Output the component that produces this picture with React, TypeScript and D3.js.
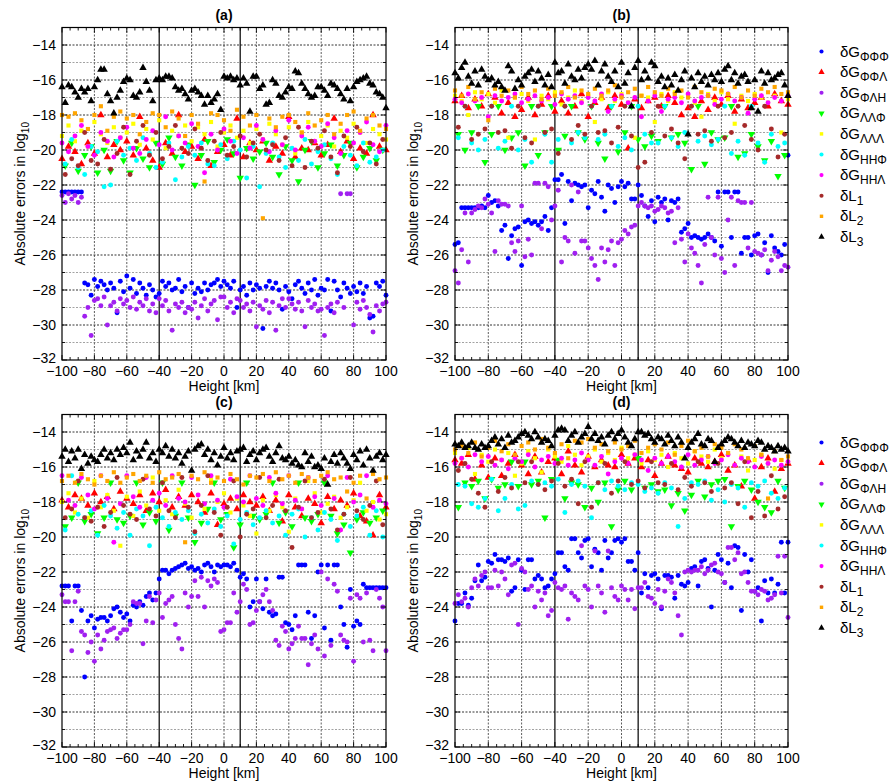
import React from 'react';
import * as d3 from 'd3';

// heights (km) at which the series were sampled
const fineH = d3.range(-100, 101, 2);
const coarseH = d3.range(-100, 101, 4);
const offsetH = d3.range(-98, 100, 4);

const yTicks = [-32, -30, -28, -26, -24, -22, -20, -18, -16, -14];
const xTicks = [-100, -80, -60, -40, -20, 0, 20, 40, 60, 80, 100];
const markLines = [-40, 10];

const seriesMain = ['δG', 'δG', 'δG', 'δG', 'δG', 'δG', 'δG', 'δL', 'δL', 'δL'];
const seriesSub = ['ΦΦΦ', 'ΦΦΛ', 'ΦΛH', 'ΛΛΦ', 'ΛΛΛ', 'HHΦ', 'HHΛ', '1', '2', '3'];

// ---------- panel (a) ----------
const aGppp = [
  -22.4, -22.4, -22.4, -22.4, -22.4, -22.4, -22.4, -27.6, -27.7, -28.3,
  -27.4, -27.8, -27.5, -27.7, -28.0, -27.6, -27.9, -29.3, -27.5, -28.1,
  -27.2, -27.9, -27.4, -28.2, -27.6, -27.9, -28.3, -27.7, -28.0, -28.4,
  -28.2, -27.5, -27.8, -27.6, -28.0, -27.9, -27.4, -28.1, -27.8, -29.0,
  -27.6, -28.2, -27.9, -28.1, -27.6, -28.0, -27.7, -27.6, -27.4, -27.8,
  -27.5, -27.7, -27.9, -27.5, -29.0, -28.0, -27.8, -28.3, -27.6, -28.0,
  -27.7, -27.9, -30.2, -27.8, -27.5, -27.9, -27.6, -28.0, -29.1, -27.8,
  -28.1, -28.5, -27.7, -27.5, -27.9, -28.2, -27.6, -28.0, -27.4, -28.3,
  -27.9, -28.0, -27.4, -29.2, -27.5, -28.0, -28.4, -27.6, -27.9, -28.2,
  -27.8, -28.1, -27.6, -28.2, -27.8, -29.6, -29.5, -27.6, -27.8, -27.5,
  -28.3,
];
const aGppl = [
  -20.5, -19.8, -20.1, -20.8, -19.6, -20.2, -18.0, -20.4, -19.7, -20.0,
  -19.5, -20.3, -18.1, -19.9, -20.6, -21.0, -19.6, -20.2, -18.0, -20.1,
  -19.8, -20.5, -19.4, -20.9, -20.1, -19.7, -20.3, -18.2, -20.4, -19.6,
  -20.0, -19.5, -20.6, -19.8, -20.2, -18.1, -20.4, -19.9, -20.0, -19.6,
  -20.3, -19.7, -18.2, -20.1, -19.5, -20.5, -19.9, -20.2, -18.0, -19.8,
  -20.0,
];
const aGplh = [
  -22.6, -23.0, -22.5, -22.8, -22.6, -23.0, -22.7, -29.5, -29.0, -30.6,
  -28.6, -28.5, -28.9, -28.4, -30.0, -28.9, -28.7, -29.2, -28.5, -28.8,
  -28.6, -29.0, -28.4, -29.1, -28.7, -28.9, -28.5, -29.2, -28.8, -29.3,
  -28.5, -28.9, -28.6, -29.2, -30.3, -28.8, -29.0, -28.7, -29.3, -29.0,
  -29.1, -28.7, -29.6, -28.9, -28.5, -29.2, -28.8, -28.6, -29.7, -28.4,
  -28.4, -29.0, -28.7, -29.3, -28.5, -28.6, -29.0, -28.8, -29.2, -28.7,
  -30.1, -28.9, -29.1, -28.6, -29.3, -28.7, -30.3, -28.9, -28.5, -29.0,
  -28.5, -28.8, -29.1, -28.7, -29.2, -30.1, -28.6, -29.0, -28.8, -29.2,
  -29.1, -30.6, -29.0, -28.8, -29.3, -28.7, -22.5, -29.0, -22.5, -22.5,
  -30.0, -28.7, -29.1, -28.6, -29.0, -29.4, -30.4, -28.9, -29.2, -28.8,
  -28.7,
];
const aGllp = [
  -20.9, -19.6, -21.2, -20.3, -19.8, -21.3, -20.0, -21.2, -19.5, -20.6,
  -21.3, -19.9, -20.5, -21.0, -19.6, -20.8, -19.3, -20.4, -20.9, -19.7,
  -22.0, -20.3, -19.5, -20.7, -20.0, -19.4, -20.2, -21.6, -19.9, -20.5,
  -20.1, -19.6, -20.4, -21.4, -19.8, -20.6, -21.8, -20.0, -19.5, -21.0,
  -20.2, -19.7, -20.9, -20.3, -19.6, -21.0, -20.4, -19.9, -20.6, -20.0,
];
const aGlll = [
  -19.2, -18.6, -19.5, -18.9, -19.8, -18.4, -19.1, -19.6, -18.7, -19.3,
  -19.0, -18.5, -19.7, -18.8, -19.4, -18.3, -19.9, -18.9, -19.2, -18.6,
  -19.5, -18.7, -19.1, -18.4, -19.8, -19.0, -18.6, -19.3, -18.9, -19.6,
  -18.8, -19.4, -18.5, -19.1, -19.7, -18.7, -20.2, -19.0, -18.4, -19.5,
  -19.2, -18.6, -19.8, -18.9, -19.3, -18.5, -19.0, -19.6, -18.8, -19.1,
  -19.4,
];
const aGhhp = [
  -20.8, -19.4, -21.0, -21.4, -19.8, -20.1, -22.1, -22.0, -19.5, -20.3,
  -19.9, -20.6, -19.3, -20.2, -21.0, -20.7, -19.6, -21.7, -20.4, -19.8,
  -20.3, -19.6, -20.8, -20.9, -19.7, -20.5, -19.5, -20.0, -21.6, -19.8,
  -22.1, -20.2, -19.6, -20.4, -21.0, -19.9, -20.6, -19.4, -20.8, -20.1,
  -19.7, -20.5, -21.4, -19.8, -20.3, -20.9, -19.6, -20.7, -20.4, -20.0,
];
const aGhhl = [
  -19.6, -20.1, -19.2, -18.6, -19.8, -20.3, -19.0, -19.5, -20.4, -19.3,
  -18.7, -19.9, -20.2, -19.4, -18.9, -19.7, -18.1, -20.0, -19.2, -19.6,
  -18.5, -19.8, -21.3, -19.1, -20.0, -18.8, -19.5, -20.2, -19.3, -19.9,
  -18.6, -19.4, -20.1, -18.9, -19.7, -18.3, -20.0, -19.2, -18.7, -19.5,
  -19.8, -18.5, -19.3, -20.2, -18.9, -19.6, -19.0, -18.4, -19.7, -20.1,
  -18.6,
];
const aL1 = [
  -21.4, -20.5, -20.9, -19.0, -20.6, -20.8, -19.4, -21.1, -20.2, -18.7,
  -21.4, -19.5, -18.6, -20.3, -19.0, -20.5, -19.8, -18.6, -19.9, -20.2,
  -18.8, -19.9, -20.6, -19.5, -19.0, -20.3, -19.8, -19.2, -20.4, -19.6,
  -19.1, -20.0, -19.7, -20.6, -19.3, -20.9, -18.7, -21.0, -19.5, -19.9,
  -18.9, -20.4, -21.3, -19.2, -19.8, -18.7, -20.1, -19.6, -20.8, -19.4,
];
const aL2 = [
  -18.0, -18.1, -17.9, -18.3, -18.8, -18.0, -17.5, -18.9, -18.1, -17.8,
  -18.2, -18.0, -19.1, -18.4, -17.9, -18.0, -18.7, -17.8, -18.2, -19.2,
  -18.0, -18.5, -21.8, -17.9, -18.0, -18.3, -18.9, -17.7, -18.1, -18.6,
  -18.0, -23.9, -18.2, -18.7, -18.1, -18.0, -18.4, -19.0, -17.9, -18.6,
  -18.3, -18.0, -19.1, -18.5, -18.0, -17.8, -18.9, -18.2, -18.0, -18.6,
  -18.8,
];
const aL3 = [
  -16.4, -17.3, -16.3, -16.4, -16.7, -17.0, -16.5, -16.7, -16.5, -17.2,
  -16.4, -16.0, -15.4, -15.4, -16.8, -17.2, -17.9, -17.0, -16.6, -16.1,
  -15.9, -16.0, -16.9, -17.0, -16.7, -15.3, -16.1, -16.6, -17.2, -16.0,
  -15.9, -16.0, -15.8, -15.8, -15.9, -16.4, -16.6, -16.5, -16.8, -17.1,
  -16.6, -16.5, -16.7, -16.9, -17.4, -16.9, -17.3, -17.1, -16.8, -17.7,
  -15.8, -15.9, -15.8, -16.0, -15.9, -16.3, -15.9, -16.2, -17.8, -15.8,
  -15.8, -16.5, -16.3, -17.4, -17.3, -16.0, -16.2, -16.9, -17.0, -16.7,
  -16.4, -16.5, -15.5, -15.6, -16.2, -16.5, -16.8, -17.0, -16.9, -16.4,
  -16.4, -16.6, -16.9, -16.2, -16.3, -16.5, -16.8, -17.1, -16.5, -17.2,
  -16.4, -16.1, -16.0, -15.9, -15.8, -16.2, -16.3, -16.7, -16.8, -17.0,
  -17.6,
];

// ---------- panel (b) ----------
const bGppp = [
  -25.4, -25.3, -23.3, -23.3, -23.3, -23.3, -23.3, -23.3, -23.2, -23.3,
  -22.6, -23.0, -22.9, -23.2, -24.6, -24.3, -26.2, -24.9, -24.5, -24.4,
  -26.6, -24.1, -24.0, -24.2, -24.1, -24.3, -24.1, -23.8, -24.6, -23.3,
  -21.7, -21.7, -21.4, -24.2, -21.8, -22.9, -21.9, -22.0, -22.1, -22.0,
  -23.3, -22.3, -22.5, -21.8, -22.7, -23.5, -22.0, -22.2, -23.0, -22.1,
  -21.8, -22.1, -21.9, -22.8, -22.8, -22.0, -22.6, -23.2, -23.8, -22.9,
  -24.1, -22.7, -23.0, -22.8, -24.0, -22.9, -23.0, -22.8, -24.7, -24.5,
  -24.2, -25.0, -24.9, -25.0, -25.1, -25.0, -24.8, -25.0, -25.2, -22.4,
  -25.5, -22.4, -22.4, -25.0, -22.4, -22.4, -25.9, -25.0, -25.0, -26.0,
  -24.9, -24.8, -26.0, -25.3, -27.0, -24.9, -25.6, -25.8, -26.0, -25.4,
  -20.3,
];
const bGppl = [
  -17.2, -16.9, -17.6, -17.1, -17.5, -16.8, -17.0, -17.9, -17.3, -18.1,
  -17.7, -17.0, -18.0, -17.4, -16.9, -17.8, -17.2, -17.9, -17.5, -16.8,
  -18.1, -17.3, -17.0, -17.6, -16.9, -17.4, -19.9, -17.1, -17.6, -17.2,
  -17.0, -17.5, -16.9, -17.3, -18.0, -17.6, -18.1, -17.2, -17.7, -17.0,
  -17.4, -16.9, -17.8, -17.1, -17.6, -17.3, -17.0, -17.5, -16.8, -17.2,
  -17.4,
];
const bGplh = [
  -26.9, -27.6, -25.7, -23.6, -26.4, -23.6, -23.4, -23.2, -23.3, -22.8,
  -23.1, -23.6, -25.8, -22.9, -23.1, -23.1, -23.2, -25.3, -25.8, -25.2,
  -23.2, -26.1, -25.1, -26.0, -21.9, -21.9, -24.5, -21.9, -22.1, -24.0,
  -23.2, -22.3, -26.4, -25.0, -25.2, -22.0, -25.9, -22.4, -25.2, -25.2,
  -25.6, -26.2, -26.6, -27.4, -25.6, -26.4, -25.7, -25.2, -26.6, -25.3,
  -25.1, -24.6, -24.8, -24.4, -24.3, -23.2, -23.0, -23.2, -23.3, -23.2,
  -23.5, -23.4, -23.2, -23.3, -23.6, -23.5, -25.3, -23.3, -25.1, -26.4,
  -24.8, -25.6, -25.9, -26.6, -27.6, -25.4, -22.7, -25.0, -26.0, -22.7,
  -26.2, -27.0, -24.0, -22.7, -26.6, -22.9, -23.0, -23.0, -25.6, -23.0,
  -25.8, -25.9, -26.0, -25.7, -26.9, -26.3, -25.8, -26.1, -26.9, -26.6,
  -26.7,
];
const bGllp = [
  -19.1, -20.0, -19.0, -17.5, -20.7, -19.1, -17.5, -20.0, -19.3, -19.0,
  -20.9, -17.5, -20.3, -19.0, -17.5, -20.0, -19.2, -17.5, -19.0, -19.4,
  -17.5, -19.6, -20.5, -17.5, -20.1, -19.0, -17.5, -19.4, -19.8, -19.2,
  -19.5, -17.5, -19.3, -19.1, -19.6, -21.1, -17.5, -20.8, -19.0, -19.4,
  -19.3, -17.5, -20.4, -20.2, -19.1, -19.8, -20.6, -19.5, -21.5, -20.3,
];
const bGlll = [
  -16.9, -17.2, -18.0, -16.7, -17.1, -16.8, -17.3, -16.6, -19.3, -17.0,
  -16.8, -17.2, -19.4, -16.9, -17.1, -16.7, -17.4, -17.0, -16.6, -17.2,
  -16.9, -18.4, -17.1, -16.7, -17.2, -16.8, -17.3, -19.3, -16.9, -17.0,
  -18.4, -16.8, -17.2, -16.7, -17.0, -16.9, -17.3, -18.1, -16.8, -17.2,
  -16.7, -17.1, -18.5, -16.9, -17.2, -16.8, -17.0, -17.3, -16.9, -19.0,
  -17.1,
];
const bGhhp = [
  -19.3, -17.5, -19.6, -20.0, -19.4, -17.5, -19.9, -19.5, -17.5, -20.0,
  -19.4, -20.7, -17.5, -19.1, -20.7, -19.4, -17.5, -19.6, -19.0, -19.3,
  -17.5, -19.4, -19.1, -17.5, -19.8, -19.3, -20.0, -17.5, -19.1, -19.6,
  -19.6, -17.5, -19.3, -19.8, -19.0, -17.5, -19.5, -19.2, -19.7, -19.4,
  -17.5, -20.2, -19.5, -20.3, -17.5, -19.6, -20.7, -19.1, -19.8, -19.6,
];
const bGhhl = [
  -17.1, -17.3, -16.8, -17.2, -17.0, -18.1, -16.9, -17.2, -17.0, -16.8,
  -17.3, -17.1, -16.9, -17.2, -17.0, -17.4, -16.8, -17.1, -16.9, -17.3,
  -17.0, -17.2, -16.8, -17.8, -17.1, -16.9, -17.3, -17.0, -18.1, -17.2,
  -16.9, -17.8, -17.1, -17.0, -17.3, -16.8, -17.2, -17.0, -16.9, -17.4,
  -17.1, -16.8, -17.2, -17.0, -17.9, -17.1, -16.9, -17.3, -17.0, -17.2,
  -16.9,
];
const bL1 = [
  -18.7, -17.5, -19.4, -19.1, -18.8, -17.5, -19.0, -18.9, -19.9, -17.5,
  -19.3, -19.6, -17.5, -19.0, -18.8, -20.2, -17.5, -19.4, -18.6, -19.1,
  -17.5, -19.0, -18.9, -19.6, -18.7, -17.5, -19.2, -21.0, -20.7, -19.0,
  -17.5, -19.2, -18.8, -19.6, -20.5, -17.5, -19.1, -18.9, -19.5, -17.5,
  -19.3, -19.0, -17.5, -18.6, -19.4, -20.0, -17.5, -18.8, -20.4, -19.1,
];
const bL2 = [
  -16.6, -16.9, -16.4, -17.1, -16.7, -18.3, -16.5, -16.9, -16.6, -17.0,
  -16.4, -16.8, -16.6, -17.1, -16.5, -16.9, -16.7, -16.4, -17.0, -16.6,
  -16.8, -16.5, -16.9, -16.6, -16.3, -17.0, -16.7, -16.5, -16.9, -16.4,
  -16.7, -16.9, -16.5, -16.8, -16.6, -17.0, -16.4, -16.7, -16.9, -16.5,
  -16.6, -16.8, -16.4, -17.0, -16.6, -16.9, -16.5, -16.7, -16.4, -16.8,
  -16.7,
];
const bL3 = [
  -15.6, -15.9, -15.3, -15.0, -15.8, -16.2, -15.5, -16.3, -15.4, -15.8,
  -16.0, -15.9, -16.3, -16.1, -16.4, -16.6, -15.2, -15.5, -16.5, -16.0,
  -16.3, -15.8, -15.6, -15.4, -16.1, -15.5, -15.9, -16.3, -15.7, -16.4,
  -15.0, -15.6, -15.5, -16.2, -15.1, -15.8, -16.0, -15.4, -15.9, -15.3,
  -15.1, -15.4, -14.9, -16.3, -15.5, -15.1, -15.8, -16.1, -15.5, -16.4,
  -15.0, -16.2, -15.6, -17.5, -15.3, -14.9, -16.0, -15.5, -15.9, -15.0,
  -15.2, -16.1, -15.8, -16.4, -15.9, -16.3, -15.7, -16.6, -16.0, -15.5,
  -19.1, -15.9, -16.4, -15.6, -16.1, -15.8, -16.3, -15.7, -16.0, -15.6,
  -16.1, -15.4, -15.2, -16.0, -15.6, -16.2, -15.8, -15.7, -16.1, -17.6,
  -16.0, -17.8, -15.5, -16.2, -15.6, -16.0, -15.9, -15.7, -15.6, -16.3,
  -16.9,
];

// ---------- panel (c) ----------
const cGppp = [
  -22.8, -22.8, -22.8, -24.8, -22.8, -22.8, -24.2, -28.0, -24.8, -24.5,
  -25.2, -24.7, -24.6, -24.6, -24.8, -24.5, -24.1, -24.0, -24.3, -24.6,
  -24.4, -24.8, -23.9, -24.0, -23.7, -23.9, -23.4, -23.2, -23.6, -23.2,
  -22.4, -21.9, -21.9, -22.1, -21.9, -21.8, -21.7, -21.6, -21.5, -21.8,
  -21.7, -21.9, -21.8, -22.0, -21.6, -21.5, -21.7, -22.0, -21.6, -21.7,
  -21.6, -21.6, -21.7, -21.5, -21.9, -22.3, -22.1, -22.4, -24.0, -23.7,
  -22.4, -23.7, -24.1, -22.4, -24.3, -24.5, -24.4, -22.3, -22.3, -24.9,
  -25.0, -25.3, -24.5, -21.6, -21.6, -21.6, -24.3, -25.8, -24.5, -22.0,
  -21.6, -25.2, -21.6, -25.9, -21.6, -21.6, -24.0, -25.0, -26.3, -23.0,
  -25.1, -24.8, -25.0, -22.7, -22.9, -22.9, -22.9, -22.9, -22.9, -22.9,
  -22.9,
];
const cGppl = [
  -17.9, -18.3, -17.6, -17.8, -18.2, -17.5, -18.0, -17.7, -18.4, -17.4,
  -17.8, -18.1, -17.6, -18.5, -17.5, -18.0, -17.3, -18.3, -17.7, -18.2,
  -17.6, -18.0, -18.6, -17.5, -19.3, -18.1, -17.8, -18.4, -17.6, -18.0,
  -18.2, -17.7, -18.5, -17.9, -19.1, -17.6, -18.3, -18.8, -17.8, -18.1,
  -19.2, -17.7, -18.4, -17.9, -18.2, -17.5, -18.8, -19.1, -19.9, -17.6,
  -18.3,
];
const cGplh = [
  -23.3, -23.7, -23.7, -26.5, -23.7, -23.1, -25.4, -25.6, -26.6, -26.0,
  -27.1, -25.6, -26.4, -25.9, -25.4, -25.3, -25.2, -25.8, -25.5, -25.3,
  -25.3, -25.0, -23.7, -23.8, -23.8, -26.1, -24.8, -23.4, -24.9, -23.6,
  -23.2, -24.6, -23.8, -23.6, -23.4, -25.0, -25.8, -26.4, -23.2, -24.0,
  -23.4, -22.5, -23.4, -22.3, -24.0, -22.5, -22.8, -22.4, -22.6, -25.4,
  -25.3, -24.9, -24.9, -23.2, -24.3, -23.7, -22.7, -23.0, -25.0, -24.9,
  -24.2, -23.7, -23.3, -23.0, -23.7, -24.2, -25.9, -26.2, -25.1, -25.4,
  -26.4, -26.1, -25.8, -25.1, -25.8, -25.8, -27.3, -26.1, -25.6, -26.4,
  -22.0, -26.8, -22.4, -26.2, -22.7, -23.1, -25.6, -25.9, -26.0, -23.5,
  -27.1, -23.3, -23.5, -26.0, -23.2, -25.9, -26.5, -23.0, -23.5, -24.0,
  -26.5,
];
const cGllp = [
  -19.4, -18.9, -16.9, -19.1, -18.7, -19.8, -18.9, -16.9, -19.0, -19.2,
  -18.8, -16.9, -19.3, -18.6, -19.1, -16.9, -19.6, -18.8, -16.9, -18.9,
  -20.3, -19.2, -18.4, -16.9, -19.0, -18.7, -20.6, -19.3, -16.9, -18.8,
  -19.0, -18.7, -16.9, -19.2, -18.6, -19.4, -16.9, -18.9, -19.1, -18.7,
  -16.9, -18.8, -19.8, -19.3, -20.9, -19.0, -18.6, -19.2, -18.9, -18.5,
];
const cGlll = [
  -18.0, -17.5, -18.6, -17.8, -18.9, -16.8, -18.3, -17.6, -18.5, -20.5,
  -17.7, -18.8, -17.4, -18.2, -16.6, -18.5, -17.9, -18.7, -17.3, -18.1,
  -18.9, -17.6, -18.4, -16.7, -18.0, -17.5, -18.6, -17.8, -18.2, -18.8,
  -19.8, -17.9, -18.5, -17.6, -18.3, -19.7, -17.8, -18.4, -16.8, -17.5,
  -18.6, -18.1, -17.7, -18.9, -18.3, -17.9, -16.9, -18.5, -18.0, -19.0,
  -18.7,
];
const cGhhp = [
  -19.6, -16.5, -18.7, -18.9, -18.5, -19.9, -18.2, -18.8, -19.5, -18.6,
  -19.9, -18.4, -18.8, -20.5, -18.3, -18.9, -19.4, -18.6, -19.0, -18.5,
  -19.8, -18.7, -19.2, -18.4, -19.4, -18.8, -20.4, -19.0, -18.6, -19.3,
  -18.9, -18.5, -19.2, -18.8, -19.9, -18.7, -18.4, -20.0, -18.9, -19.6,
  -18.6, -19.0, -20.2, -18.7, -19.4, -18.8, -18.3, -19.9, -18.5, -20.0,
];
const cGhhl = [
  -16.5, -17.9, -18.2, -16.6, -17.6, -18.4, -16.5, -17.8, -20.3, -18.1,
  -16.5, -17.7, -18.3, -16.6, -17.9, -17.5, -18.2, -16.5, -17.8, -18.0,
  -16.6, -17.6, -18.1, -16.5, -17.9, -18.3, -16.7, -17.7, -18.0, -16.5,
  -17.8, -18.2, -16.6, -17.5, -18.1, -16.5, -17.9, -18.4, -16.6, -17.7,
  -18.2, -16.5, -17.8, -19.6, -16.6, -18.0, -17.6, -16.5, -18.3, -17.9,
  -18.1,
];
const cL1 = [
  -18.9, -18.4, -16.8, -18.9, -19.1, -18.3, -19.4, -18.6, -16.6, -18.2,
  -18.7, -19.0, -16.7, -18.4, -18.8, -16.9, -18.5, -18.9, -16.6, -18.3,
  -19.7, -18.2, -16.5, -18.6, -19.9, -18.3, -16.8, -20.0, -18.7, -18.4,
  -16.6, -18.9, -18.2, -16.7, -18.5, -20.6, -18.3, -16.8, -18.9, -18.6,
  -16.7, -18.4, -19.6, -18.7, -16.6, -18.5, -19.0, -18.2, -16.8, -19.3,
];
const cL2 = [
  -16.8, -16.5, -16.9, -16.4, -16.7, -17.0, -16.5, -16.8, -16.3, -16.9,
  -16.6, -16.4, -16.8, -16.5, -16.9, -16.3, -16.7, -16.6, -16.4, -20.3,
  -16.5, -16.7, -16.3, -16.9, -16.6, -16.8, -16.4, -16.7, -17.0, -16.5,
  -16.6, -16.4, -16.8, -16.3, -16.7, -16.5, -16.9, -16.4, -16.6, -16.8,
  -16.5, -16.3, -16.7, -16.6, -17.4, -16.9, -16.5, -17.8, -16.4, -16.7,
  -16.6,
];
const cL3 = [
  -15.4, -15.0, -15.7, -15.1, -15.5, -15.0, -16.1, -15.3, -15.8, -15.4,
  -15.6, -15.7, -15.3, -15.0, -15.5, -15.2, -15.6, -15.0, -15.3, -14.9,
  -15.2, -14.6, -15.6, -15.1, -15.4, -15.0, -14.6, -15.5, -15.2, -15.7,
  -15.0, -15.2, -14.8, -15.4, -15.0, -15.5, -15.2, -15.8, -15.4, -15.1,
  -16.2, -15.0, -14.8, -14.7, -15.3, -15.0, -15.6, -15.2, -15.9, -15.4,
  -14.9, -15.5, -15.2, -15.6, -15.1, -15.0, -14.9, -15.7, -15.3, -15.1,
  -15.6, -15.2, -15.0, -14.9, -15.4, -15.7, -15.2, -14.8, -15.5, -15.6,
  -15.4, -15.8, -15.6, -15.9, -16.0, -15.2, -15.7, -15.4, -16.0, -15.9,
  -16.1, -15.5, -17.0, -15.7, -15.3, -15.8, -15.2, -15.5, -15.8, -16.1,
  -15.3, -15.6, -15.1, -15.9, -15.0, -15.5, -16.2, -15.4, -15.2, -15.6,
  -15.3,
];

// ---------- panel (d) ----------
const dGppp = [
  -24.8, -23.8, -23.8, -23.2, -23.9, -23.5, -22.5, -21.6, -22.5, -22.3,
  -21.4, -21.5, -21.0, -21.3, -21.3, -21.4, -21.2, -23.1, -22.9, -21.3,
  -21.9, -23.0, -21.3, -21.3, -22.4, -22.2, -22.4, -22.9, -22.8, -22.4,
  -22.1, -20.9, -20.9, -21.7, -21.9, -20.1, -20.1, -20.9, -21.2, -20.2,
  -20.1, -21.7, -20.7, -20.9, -21.9, -20.2, -21.2, -20.9, -20.2, -20.1,
  -20.3, -20.1, -21.4, -21.4, -21.9, -20.9, -23.2, -22.1, -22.9, -22.2,
  -22.1, -22.4, -24.1, -22.2, -22.2, -22.3, -23.5, -22.2, -22.7, -22.8,
  -22.6, -21.8, -21.7, -22.8, -21.4, -21.3, -21.8, -24.0, -21.9, -21.0,
  -21.3, -22.6, -21.5, -22.9, -20.5, -20.6, -24.2, -21.0, -22.0, -21.3,
  -23.1, -22.9, -24.8, -22.5, -23.2, -22.4, -23.2, -22.7, -20.3, -23.2,
  -20.3,
];
const dGppl = [
  -15.6, -15.8, -15.3, -16.7, -15.9, -16.6, -15.5, -16.5, -15.8, -15.3,
  -15.9, -16.4, -15.4, -16.3, -15.7, -15.5, -16.4, -15.1, -15.9, -16.3,
  -15.4, -16.0, -15.6, -15.9, -16.0, -15.3, -15.8, -15.5, -16.0, -15.6,
  -16.5, -15.8, -15.4, -15.9, -16.1, -16.3, -15.5, -15.8, -16.0, -15.7,
  -15.3, -16.2, -15.9, -17.1, -15.6, -17.8, -16.0, -15.5, -17.4, -16.1,
  -15.8,
];
const dGplh = [
  -23.8, -23.3, -23.7, -23.5, -24.0, -22.9, -22.4, -22.8, -22.2, -22.0,
  -22.9, -22.9, -21.9, -22.8, -22.0, -22.4, -23.3, -21.6, -21.5, -25.0,
  -21.8, -22.0, -23.0, -22.8, -24.0, -23.1, -23.6, -23.2, -24.5, -24.2,
  -22.6, -22.9, -23.0, -22.8, -24.7, -23.2, -23.4, -23.6, -20.5, -22.8,
  -23.0, -24.0, -20.8, -22.8, -23.2, -24.3, -20.8, -22.9, -23.4, -23.6,
  -22.8, -23.0, -23.6, -23.0, -24.1, -22.9, -22.9, -22.6, -23.4, -23.5,
  -23.8, -23.0, -24.0, -23.1, -22.4, -22.6, -23.2, -24.5, -25.6, -22.0,
  -21.9, -22.0, -21.9, -21.9, -21.7, -22.1, -21.9, -21.6, -21.5, -22.0,
  -22.1, -22.6, -20.6, -20.6, -21.3, -20.9, -22.1, -22.0, -22.6, -23.1,
  -23.1, -23.3, -23.0, -23.1, -23.6, -23.5, -23.3, -21.1, -23.2, -21.1,
  -24.6,
];
const dGllp = [
  -18.3, -16.9, -17.1, -16.8, -17.8, -16.7, -17.2, -17.0, -15.7, -17.1,
  -15.7, -17.0, -16.8, -18.9, -16.7, -15.6, -17.8, -16.9, -17.0, -18.3,
  -17.2, -18.0, -16.9, -19.4, -17.3, -16.8, -17.3, -15.5, -17.2, -17.0,
  -17.4, -17.3, -18.2, -17.5, -18.5, -17.6, -16.8, -17.7, -17.0, -16.8,
  -16.7, -19.4, -17.1, -16.8, -17.3, -18.0, -18.3, -18.6, -16.8, -17.2,
];
const dGlll = [
  -15.2, -15.5, -14.9, -16.4, -15.3, -15.7, -15.0, -15.6, -15.2, -16.5,
  -15.8, -15.1, -15.5, -16.3, -15.0, -15.4, -15.7, -14.8, -15.3, -15.9,
  -15.4, -15.0, -15.7, -15.2, -15.6, -14.9, -15.5, -15.3, -15.8, -15.1,
  -15.6, -15.3, -16.0, -15.2, -15.5, -15.8, -15.1, -15.4, -15.7, -15.0,
  -15.5, -15.2, -15.9, -15.4, -16.2, -15.6, -15.3, -15.8, -16.1, -15.6,
  -15.7,
];
const dGhhp = [
  -17.0, -17.1, -18.1, -18.3, -17.8, -16.7, -18.5, -17.8, -17.0, -18.4,
  -18.2, -16.8, -17.0, -16.9, -17.1, -16.7, -18.6, -17.0, -16.8, -17.1,
  -18.9, -16.9, -17.3, -16.8, -17.1, -17.3, -16.9, -17.0, -17.4, -17.2,
  -17.5, -16.9, -17.2, -19.4, -17.8, -16.9, -17.0, -16.8, -17.9, -17.3,
  -18.0, -17.0, -17.2, -18.3, -16.9, -17.1, -16.8, -17.5, -17.8, -17.2,
];
const dGhhl = [
  -15.8, -15.5, -16.0, -15.3, -15.7, -15.4, -15.9, -15.6, -16.1, -15.5,
  -15.7, -15.3, -16.0, -15.6, -15.4, -15.8, -15.5, -15.9, -15.6, -15.2,
  -15.6, -15.9, -15.4, -16.4, -15.7, -15.5, -15.8, -15.3, -15.6, -16.2,
  -15.5, -15.8, -15.4, -15.7, -16.0, -15.3, -15.9, -15.6, -15.4, -15.8,
  -15.6, -15.3, -15.9, -15.5, -15.7, -16.0, -15.4, -15.8, -15.6, -15.9,
  -15.7,
];
const dL1 = [
  -16.2, -15.8, -16.7, -17.5, -18.3, -15.7, -17.4, -16.6, -17.2, -15.7,
  -16.9, -15.7, -17.0, -17.3, -16.8, -15.8, -17.1, -16.7, -18.1, -15.7,
  -18.3, -16.9, -15.8, -17.5, -16.8, -15.7, -17.0, -16.8, -17.2, -15.7,
  -16.9, -17.0, -15.8, -17.3, -16.6, -17.1, -15.7, -16.9, -17.4, -15.8,
  -17.2, -16.9, -18.1, -15.7, -18.9, -17.4, -18.8, -16.5, -18.4, -17.7,
];
const dL2 = [
  -15.0, -14.8, -15.2, -14.6, -15.4, -14.9, -14.5, -15.1, -14.7, -15.3,
  -14.8, -14.6, -15.0, -14.4, -14.9, -15.2, -14.7, -15.5, -14.5, -14.6,
  -14.4, -14.9, -14.7, -15.1, -14.6, -15.0, -14.8, -14.5, -15.2, -14.9,
  -14.7, -15.0, -14.6, -15.3, -14.8, -14.5, -15.1, -14.9, -15.4, -14.7,
  -14.9, -15.2, -14.7, -15.0, -15.5, -14.8, -15.3, -17.8, -15.1, -15.6,
  -15.4,
];
const dL3 = [
  -14.7, -14.8, -14.6, -14.9, -14.8, -14.6, -14.9, -15.0, -14.7, -14.9,
  -14.8, -14.5, -14.3, -14.7, -14.4, -14.9, -14.2, -14.6, -14.5, -14.3,
  -14.1, -14.0, -14.2, -14.4, -14.0, -14.3, -14.6, -14.4, -14.5, -14.8,
  -14.2, -13.9, -13.8, -13.9, -14.5, -14.2, -14.0, -14.6, -14.3, -14.1,
  -13.7, -14.4, -14.1, -14.5, -14.3, -14.7, -14.2, -14.0, -14.4, -14.1,
  -13.9, -14.3, -14.6, -14.8, -14.4, -14.0, -14.0, -14.2, -14.1, -14.4,
  -14.6, -14.3, -14.4, -14.7, -14.2, -14.5, -14.8, -14.3, -14.6, -15.5,
  -14.9, -14.6, -14.4, -14.1, -14.7, -14.8, -14.4, -14.5, -15.7, -14.9,
  -14.7, -14.5, -14.3, -14.4, -14.6, -14.8, -14.5, -14.9, -14.6, -14.7,
  -14.8, -14.5, -14.6, -15.0, -14.8, -14.9, -15.1, -14.8, -15.0, -14.9,
  -15.1,
];

// sampling grid of each series, legend order
const seriesHeights = [fineH, coarseH, fineH, offsetH, coarseH, offsetH, coarseH, offsetH, coarseH, fineH];
const colors = ['#0000ff', '#ff0000', '#a020f0', '#00ff00', '#ffff00', '#00ffff', '#ff00ff', '#a52a2a', '#ffa500', '#000000'];
const shapes = ['circle', 'up', 'circle', 'down', 'square', 'circle', 'circle', 'circle', 'square', 'up'];

const FONT = 'Liberation Sans, Arial, Helvetica, sans-serif';

const panels = [
  { title: '(a)', left: 62, right: 386, top: 27.5, bottom: 360, legendY: null,
    series: [aGppp, aGppl, aGplh, aGllp, aGlll, aGhhp, aGhhl, aL1, aL2, aL3] },
  { title: '(b)', left: 455, right: 788, top: 27.5, bottom: 360, legendY: 51.5,
    series: [bGppp, bGppl, bGplh, bGllp, bGlll, bGhhp, bGhhl, bL1, bL2, bL3] },
  { title: '(c)', left: 62, right: 386, top: 414.5, bottom: 747, legendY: null,
    series: [cGppp, cGppl, cGplh, cGllp, cGlll, cGhhp, cGhhl, cL1, cL2, cL3] },
  { title: '(d)', left: 455, right: 788, top: 414.5, bottom: 747, legendY: 442.5,
    series: [dGppp, dGppl, dGplh, dGllp, dGlll, dGhhp, dGhhl, dL1, dL2, dL3] },
];

function markerPath(shape: string, big: boolean) {
  const s = big ? 1 : 0.7;
  if (shape === 'circle') return d3.symbol().type(d3.symbolCircle).size(19 * s)();
  if (shape === 'square') return d3.symbol().type(d3.symbolSquare).size(17 * s)();
  return d3.symbol().type(d3.symbolTriangle).size(24 * s)();
}

function Marker({ shape, color, x, y, big = true }: any) {
  const rot = shape === 'down' ? ' rotate(180)' : '';
  return <path d={markerPath(shape, big) as string} fill={color} transform={`translate(${x},${y})${rot}`} />;
}

function Panel({ p }: any) {
  const x = d3.scaleLinear().domain([-100, 100]).range([p.left, p.right]);
  const y = d3.scaleLinear().domain([-32, -13]).range([p.bottom, p.top]);
  const majorY = d3.range(-30, -13, 2);
  const minorY = d3.range(-31, -12, 2);
  const gridX = xTicks.filter((v) => v > -100 && v < 100 && !markLines.includes(v));
  const minorX = d3.range(-100, 101, 5);
  const yMinorTicks = d3.range(-32, -12, 1);
  const cx = (p.left + p.right) / 2;
  const cy = (p.top + p.bottom) / 2;

  return (
    <g>
      {minorY.map((v) => (
        <line key={'my' + v} x1={p.left} x2={p.right} y1={y(v)} y2={y(v)}
          stroke="#8a8a8a" strokeWidth={0.8} strokeDasharray="2,1.5" />
      ))}
      {majorY.map((v) => (
        <line key={'gy' + v} x1={p.left} x2={p.right} y1={y(v)} y2={y(v)}
          stroke="#000" strokeWidth={0.8} strokeDasharray="2,1.5" />
      ))}
      {gridX.map((v) => (
        <line key={'gx' + v} x1={x(v)} x2={x(v)} y1={p.top} y2={p.bottom}
          stroke="#333" strokeWidth={0.8} strokeDasharray="2,1.5" />
      ))}
      {markLines.map((v) => (
        <line key={'ml' + v} x1={x(v)} x2={x(v)} y1={p.top} y2={p.bottom} stroke="#000" strokeWidth={1.2} />
      ))}

      {p.series.map((vals: number[], si: number) => (
        <g key={'s' + si}>
          {vals.map((v, i) =>
            i < seriesHeights[si].length ? (
              <Marker key={i} shape={shapes[si]} color={colors[si]} x={x(seriesHeights[si][i])} y={y(v)} />
            ) : null
          )}
        </g>
      ))}

      <rect x={p.left} y={p.top} width={p.right - p.left} height={p.bottom - p.top}
        fill="none" stroke="#000" strokeWidth={1.2} />
      {minorX.map((v) => {
        const len = v % 20 === 0 ? 5 : 3;
        return (
          <g key={'tx' + v}>
            <line x1={x(v)} x2={x(v)} y1={p.bottom} y2={p.bottom - len} stroke="#000" strokeWidth={0.9} />
            <line x1={x(v)} x2={x(v)} y1={p.top} y2={p.top + len} stroke="#000" strokeWidth={0.9} />
          </g>
        );
      })}
      {yMinorTicks.map((v) => {
        const len = v % 2 === 0 ? 5 : 3;
        return (
          <g key={'ty' + v}>
            <line x1={p.left} x2={p.left + len} y1={y(v)} y2={y(v)} stroke="#000" strokeWidth={0.9} />
            <line x1={p.right} x2={p.right - len} y1={y(v)} y2={y(v)} stroke="#000" strokeWidth={0.9} />
          </g>
        );
      })}

      {yTicks.map((v) => (
        <text key={'ly' + v} x={p.left - 6} y={y(v)} dy={v === -32 ? '0.2em' : '0.35em'} textAnchor="end" fontSize={14} fontFamily={FONT}>
          {String(v).replace('-', '\u2212')}
        </text>
      ))}
      {xTicks.map((v) => (
        <text key={'lx' + v} x={x(v)} y={p.bottom + 15.5} textAnchor="middle" fontSize={14} fontFamily={FONT}>
          {String(v).replace('-', '\u2212')}
        </text>
      ))}
      <text x={cx} y={p.bottom + 30.5} textAnchor="middle" fontSize={14} fontFamily={FONT}>Height [km]</text>
      <text x={cx} y={p.top - 8} textAnchor="middle" fontSize={14} fontWeight="bold" fontFamily={FONT}>{p.title}</text>
      <text transform={`translate(${p.left - 37},${cy}) rotate(-90)`} textAnchor="middle" fontSize={14} fontFamily={FONT}>
        Absolute errors in log<tspan fontSize={10} dy={4}>10</tspan>
      </text>

      {p.legendY !== null &&
        seriesSub.map((sub, i) => {
          const ly = p.legendY + i * 20.6;
          return (
            <g key={'lg' + i}>
              <Marker shape={shapes[i]} color={colors[i]} x={821.5} y={ly} big={false} />
              <text x={840} y={ly + 5} fontSize={15} fontFamily={FONT}>
                {seriesMain[i]}
                <tspan fontSize={12} dy={4}>{sub}</tspan>
              </text>
            </g>
          );
        })}
    </g>
  );
}

export default function App() {
  return (
    <div style={{ position: 'absolute', left: 0, top: 0 }}>
      <svg width={895} height={781} style={{ display: 'block', background: '#fff' }}>
        {panels.map((p) => (
          <Panel key={p.title} p={p} />
        ))}
      </svg>
    </div>
  );
}
